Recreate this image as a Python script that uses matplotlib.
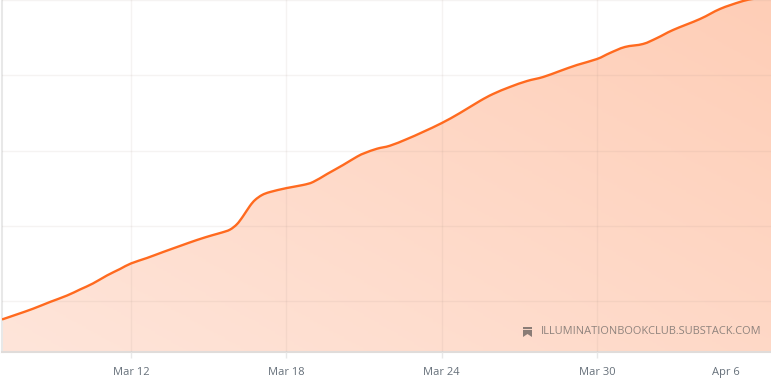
import numpy as np
import matplotlib
matplotlib.use('Agg')
import matplotlib.pyplot as plt
from matplotlib.colors import LinearSegmentedColormap
from matplotlib.patches import PathPatch, Polygon
from matplotlib.path import Path

# Days counted from Mar 12 (the y axis has no labels, units are arbitrary)
days = [-4.98, -4.40, -3.78, -3.13, -2.47, -1.97, -1.47, -0.93, -0.42, 0.0, 0.62, 1.24, 1.89,
        2.55, 3.13, 3.51, 3.82, 4.09, 4.32, 4.59, 4.79, 5.06, 5.37, 6.02, 6.64, 7.03, 7.57,
        8.19, 8.73, 9.03, 9.50, 10.0, 10.66, 11.27, 12.0, 12.70, 13.47, 13.98, 14.63, 15.29,
        15.91, 16.56, 17.22, 17.99, 18.49, 19.07, 19.77, 20.31, 20.93, 21.97, 22.74, 23.51,
        23.98, 24.71]
values = [757, 825, 900, 989, 1075, 1155, 1235, 1341, 1428, 1501, 1574, 1653, 1733,
          1813, 1875, 1912, 1950, 2022, 2125, 2264, 2344, 2410, 2450, 2503, 2543, 2583, 2689,
          2809, 2920, 2968, 3025, 3065, 3154, 3247, 3366, 3499, 3659, 3752, 3845, 3924,
          3977, 4057, 4137, 4216, 4296, 4376, 4416, 4495, 4602, 4748, 4881, 4974,
          5013, 5039]

tick_days = [0, 6, 12, 18]
tick_labels = ['Mar 12', 'Mar 18', 'Mar 24', 'Mar 30']
last_label_day = 22.97
last_label = 'Apr 6'
grid_values = [1000, 2000, 3000, 4000, 5000]
watermark = 'ILLUMINATIONBOOKCLUB.SUBSTACK.COM'

W, H = 771, 388
plt.rcParams['font.family'] = ['Open Sans', 'DejaVu Sans']


# Rounded line through the read points, as the chart library draws it (Catmull-Rom to Bezier)
def smooth_verts(xs, ys):
    p = np.column_stack([xs, ys]).astype(float)
    verts = [p[0]]
    for i in range(len(p) - 1):
        before = p[max(i - 1, 0)]
        after = p[min(i + 2, len(p) - 1)]
        verts.append(p[i] + (p[i + 1] - before) / 6)
        verts.append(p[i + 1] - (after - p[i]) / 6)
        verts.append(p[i + 1])
    return verts


fig = plt.figure(figsize=(W / 100, H / 100), dpi=100)
ax = fig.add_axes([2 / W, (H - 352) / H, 769 / W, 352 / H])
ax.set_xlim(days[0], days[-1])
ax.set_ylim(325, 5000)

curve = smooth_verts(days, values)
curve_codes = [Path.MOVETO] + [Path.CURVE4] * (len(curve) - 1)

# Diagonal gradient under the curve
cmap = LinearSegmentedColormap.from_list('fill', ['#fee5da', '#ffceb7'])
gx, gy = np.meshgrid(np.linspace(0, 1, 200), np.linspace(0, 1, 200))
img = ax.imshow(0.55 * gx + 0.45 * gy, origin='lower', extent=[0, 1, 0, 1], transform=ax.transAxes,
                cmap=cmap, aspect='auto', zorder=1)
area = Path(curve + [(days[-1], 325), (days[0], 325), curve[0]],
            curve_codes + [Path.LINETO, Path.LINETO, Path.CLOSEPOLY])
clip = PathPatch(area, transform=ax.transData, facecolor='none', edgecolor='none')
ax.add_patch(clip)
img.set_clip_path(clip)

ax.add_patch(PathPatch(Path(curve, curve_codes), facecolor='none', edgecolor='#ff6a1f',
                       linewidth=1.7, zorder=4))

# Grid sits over the fill, faint
ax.set_xticks(tick_days, tick_labels)
ax.set_yticks(grid_values)
ax.set_xticks([last_label_day], [last_label], minor=True)
ax.grid(True, which='major', color='#a08c82', alpha=0.10, linewidth=1, zorder=3)
ax.set_axisbelow(False)
ax.tick_params(axis='y', left=False, labelleft=False)
ax.tick_params(axis='x', which='major', length=4, width=1, color='#e8e8e8', labelsize=8,
               labelcolor='#66707a', pad=7)
ax.tick_params(axis='x', which='minor', length=0, labelsize=8, labelcolor='#66707a', pad=11)

for side in ['top', 'right']:
    ax.spines[side].set_visible(False)
ax.spines['left'].set_color('#e8e8e8')
ax.spines['left'].set_linewidth(1.5)
ax.spines['bottom'].set_color('#e0dcda')
ax.spines['bottom'].set_linewidth(1.5)

fig.text(761.5 / W, (H - 332) / H, watermark, ha='right', va='center', fontsize=7.9, color='#8f837d')

# Little bookmark icon next to the watermark, in pixels, with its pale stripe
icon = Polygon([(523, H - 327), (532, H - 327), (532, H - 337), (527.5, H - 334), (523, H - 337)],
               closed=True, transform=None, facecolor='#8a7c76', edgecolor='none', zorder=5)
fig.add_artist(icon)
stripe = Polygon([(523, H - 329.2), (532, H - 329.2), (532, H - 330.4), (523, H - 330.4)],
                 closed=True, transform=None, facecolor='#f3d3c4', edgecolor='none', zorder=6)
fig.add_artist(stripe)

fig.savefig('out.png', dpi=100)
